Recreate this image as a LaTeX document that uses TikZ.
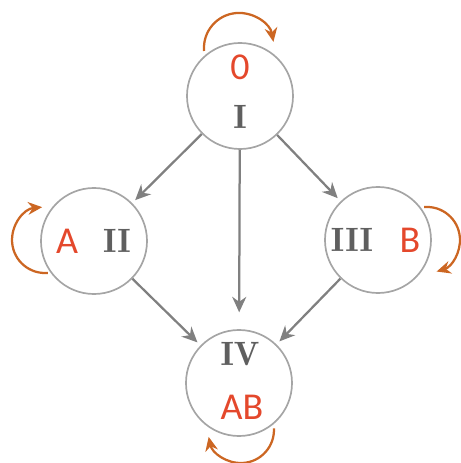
\documentclass[tikz,border=0pt]{standalone}
\usepackage{fontspec}
\usepackage{tikz}
\usetikzlibrary{arrows.meta}
\newfontfamily\lettersans{Carlito}
\newfontfamily\numserif{lmromandemi10-regular.otf}
\definecolor{circgray}{RGB}{165,165,165}
\definecolor{edgegray}{RGB}{128,128,128}
\definecolor{numgray}{RGB}{95,95,95}
\definecolor{tagred}{RGB}{228,72,44}
\definecolor{looporange}{RGB}{204,102,34}
\tikzset{
  state/.style = {circle, draw=circgray, line width=1.2pt, minimum size=2.65cm, inner sep=0pt},
  numeral/.style = {text=numgray, font=\numserif\fontsize{24}{28}\selectfont},
  lettertag/.style = {text=tagred, font=\lettersans\fontsize{27}{30}\selectfont},
  flow/.style = {-{Stealth[length=11pt,width=10pt]}, draw=edgegray, line width=1.6pt, shorten >=3pt},
  selfloop/.style = {-{Stealth[length=10pt,width=9pt]}, draw=looporange, line width=1.6pt}
}
\begin{document}
\begin{tikzpicture}[scale = .025]
\useasboundingbox (0,0) rectangle (461,463);
\node[state] (nI) at (240,367) {};
\node[state] (nII) at (94,222) {};
\node[state] (nIII) at (378,223) {};
\node[state] (nIV) at (239,80) {};

\node[lettertag] (t0) at (240,396) {0};
\node[numeral] (tI) at (240,346) {I};
\node[lettertag] (tA) at (67,222) {A};
\node[numeral] (tII) at (117,222) {II};
\node[numeral] (tIII) at (352,223) {III};
\node[lettertag] (tB) at (410,223) {B};
\node[numeral] (tIV) at (240,109) {IV};
\node[lettertag] (tAB) at (242,56) {AB};

\draw[flow] (nI) -- (nII);
\draw[flow] (nI) -- (nIII);
\draw[flow, shorten >=12pt] (nI) -- (nIV);
\draw[flow] (nII) -- (nIV);
\draw[flow] (nIII) -- (nIV);

% self loops
\draw[selfloop] (204.1,412) arc (185:10:35);
\draw[selfloop] (47.9,190.1) arc (275:95:33);
\draw[selfloop] (424.1,255.9) arc (95:-73:33);
\draw[selfloop] (273.9,34.7) arc (3:-168:33);
\end{tikzpicture}
\end{document}
